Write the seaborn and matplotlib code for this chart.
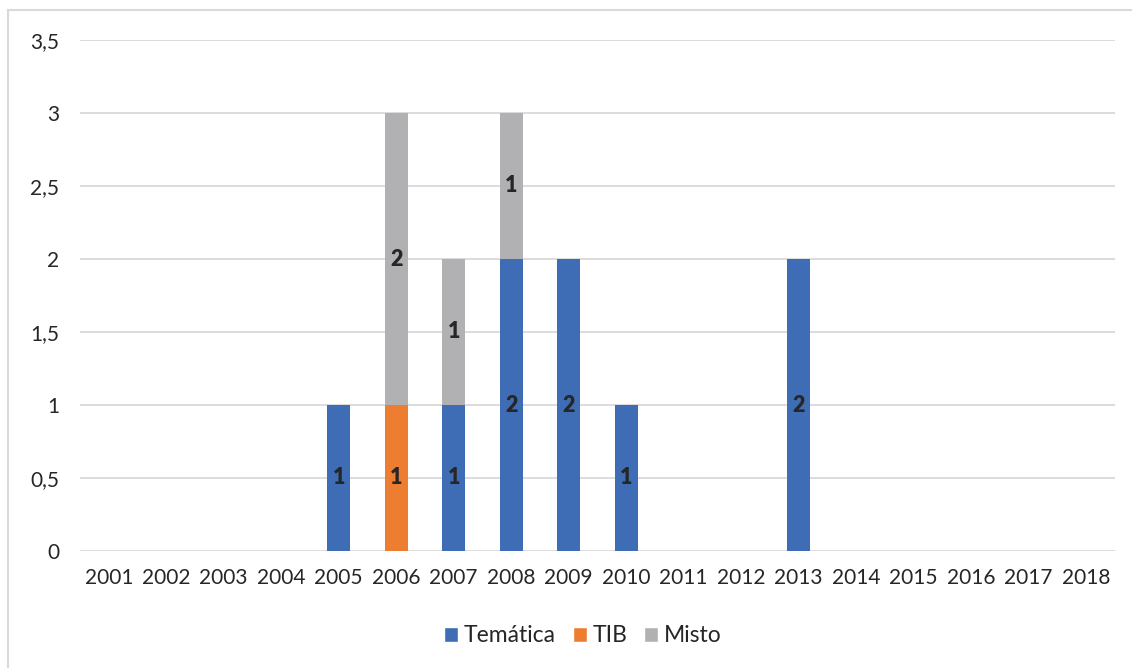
import numpy as np
import pandas as pd
import matplotlib.pyplot as plt
import seaborn as sns
from matplotlib.patches import Rectangle, Patch

YEARS    = [str(y) for y in range(2001, 2019)]
TEMATICA = [0, 0, 0, 0, 1, 0, 1, 2, 2, 1, 0, 0, 2, 0, 0, 0, 0, 0]
TIB      = [0, 0, 0, 0, 0, 1, 0, 0, 0, 0, 0, 0, 0, 0, 0, 0, 0, 0]
MISTO    = [0, 0, 0, 0, 0, 2, 1, 1, 0, 0, 0, 0, 0, 0, 0, 0, 0, 0]
Y_TICKS  = [0, 0.5, 1, 1.5, 2, 2.5, 3, 3.5]

SERIES = [
    ("Temática", TEMATICA, "#3E6DB5"),
    ("TIB",      TIB,      "#ED7D31"),
    ("Misto",    MISTO,    "#B1B1B3"),
]

sns.set_style("white")
plt.rcParams["font.family"] = ["Lato", "DejaVu Sans"]

fig = plt.figure(figsize=(11.32, 6.68), dpi=100)
ax = fig.add_axes([80 / 1132, 1 - 551 / 668, (1115 - 80) / 1132, (551 - 40) / 668])

df = pd.DataFrame({"year": YEARS, "Temática": TEMATICA, "TIB": TIB, "Misto": MISTO})

bottom = np.zeros(len(YEARS))
for name, vals, color in SERIES:
    sns.barplot(data=df, x="year", y=name, color=color, width=0.4,
                bottom=bottom, saturation=1, linewidth=0, ax=ax, zorder=3)
    for i, v in enumerate(vals):
        if v > 0:
            ax.text(i, bottom[i] + v / 2, f"{v}", ha="center", va="center",
                    fontsize=15.5, fontweight="heavy", color="#262626", zorder=4)
    bottom = bottom + np.array(vals)

ax.set_ylim(0, 3.5)
ax.set_xlim(-0.5, len(YEARS) - 0.5)
ax.set_yticks(Y_TICKS)
ax.set_yticklabels([f"{t:g}".replace(".", ",") for t in Y_TICKS])
ax.grid(axis="y", color="#D9D9D9", linewidth=1.3, zorder=0)
ax.set_axisbelow(True)
for s in ax.spines.values():
    s.set_visible(False)
ax.set_xlabel("")
ax.set_ylabel("")
ax.tick_params(axis="both", length=0, labelsize=15, labelcolor="#262626")
ax.tick_params(axis="y", pad=15)
ax.tick_params(axis="x", pad=12)

handles = [Patch(facecolor=c, label=n) for n, _, c in SERIES]
fig.legend(handles=handles, loc="center", bbox_to_anchor=(0.515, 1 - 636 / 668),
           ncol=3, frameon=False, fontsize=16.5, handlelength=0.6, handleheight=0.6,
           handletextpad=0.25, columnspacing=0.75, labelcolor="#262626")

fig.patches.append(Rectangle((8 / 1132, -0.1), 1.2, 1.1 - 10 / 668,
                             transform=fig.transFigure, fill=False,
                             edgecolor="#D9D9D9", linewidth=1.5))

fig.savefig("out.png", dpi=100)
